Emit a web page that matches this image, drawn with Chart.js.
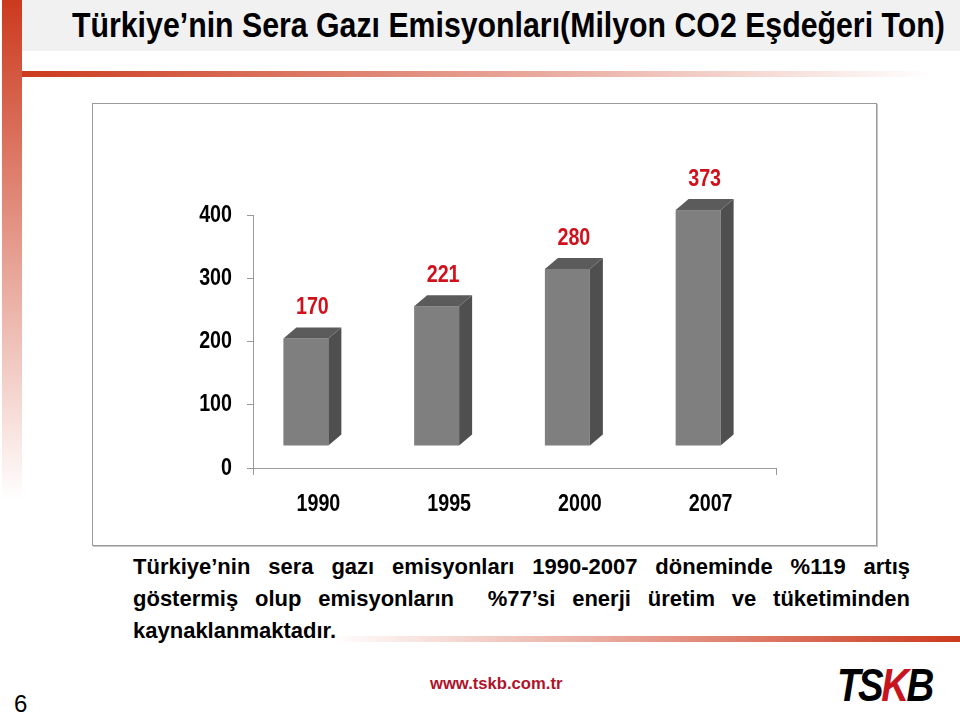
<!DOCTYPE html>
<html lang="tr">
<head>
<meta charset="utf-8">
<script src="https://cdn.jsdelivr.net/npm/chart.js@4.4.1/dist/chart.umd.min.js"></script>
<style>
  body { margin: 0; width: 960px; height: 716px; position: relative; overflow: hidden; background: #fff;
         font-family: "Liberation Sans", Arial, sans-serif; }
  .leftbar { position: absolute; left: 2px; top: 0; width: 20px; height: 500px;
             background: linear-gradient(#cc3a1e, rgba(255,255,255,0)); }
  .titleband { position: absolute; left: 22px; top: 0; width: 938px; height: 51px; background: #f1f1f1; }
  h1 { position: absolute; left: 72px; top: 5px; margin: 0; white-space: nowrap; transform-origin: 0 0;
       font: bold 35px "Liberation Sans", Arial, sans-serif; color: #000; }
  .redline { position: absolute; left: 22px; top: 71px; width: 910px; height: 6px;
             background: linear-gradient(to right, #cc3a1e, rgba(255,255,255,0)); }
  .box { position: absolute; left: 92px; top: 103px; width: 785px; height: 443px; box-sizing: border-box;
         border: 1px solid #9a9a9a; box-shadow: 1px 1px 0 #c8c8c8; }
  .box canvas { position: absolute; left: 0; top: 0; }
  .para { position: absolute; left: 133px; top: 551px; width: 777px; font: bold 22px "Liberation Sans", Arial, sans-serif;
          line-height: 32px; color: #000; }
  .para div { text-align: justify; text-align-last: justify; white-space: nowrap; }
  .para div.last { text-align: left; text-align-last: left; }
  .bottomline { position: absolute; left: 330px; top: 636px; width: 630px; height: 6px;
                background: linear-gradient(to right, rgba(255,255,255,0), #cc3a1e); }
  .pagenum { position: absolute; left: 14px; top: 690px; font: 24px "Liberation Sans", Arial, sans-serif; }
  .url { position: absolute; left: 430px; top: 675px; font: bold 16px "Liberation Sans", sans-serif; color: #b0122a;
         transform-origin: 0 0; }
  .logo { position: absolute; left: 837px; top: 657px; font: italic 900 47px "Liberation Sans", sans-serif;
          letter-spacing: -3px; color: #000; white-space: nowrap; transform-origin: 0 0; }
  .logo span { color: #c8141e; }
</style>
</head>
<body>
<div class="leftbar"></div>
<div class="titleband"></div>
<h1 id="title">Türkiye’nin Sera Gazı Emisyonları(Milyon CO2 Eşdeğeri Ton)</h1>
<div class="redline"></div>

<div class="box"><canvas id="chart" width="783" height="441"></canvas></div>

<div class="para">
  <div>Türkiye’nin sera gazı emisyonları 1990-2007 döneminde %119 artış</div>
  <div>göstermiş olup emisyonların &nbsp;%77’si enerji üretim ve tüketiminden</div>
  <div class="last">kaynaklanmaktadır.</div>
</div>
<div class="bottomline"></div>
<div class="pagenum">6</div>
<div class="url" id="url">www.tskb.com.tr</div>
<div class="logo" id="logo">TS<span>K</span>B</div>

<script>
const YEARS = ["1990", "1995", "2000", "2007"];
const EMISSIONS = [170, 221, 280, 373];
const Y_MIN = 0;
const Y_MAX = 400;
const Y_STEP = 100;

// squeeze html text to the width it has on the slide (no Arial Narrow here)
function fitWidth(id, w) {
  const el = document.getElementById(id);
  el.style.transform = "scaleX(" + (w / el.offsetWidth) + ")";
}
fitWidth("title", 873);
fitWidth("url", 132);
fitWidth("logo", 95);

const BOLD = 'bold 24px "Liberation Sans", Arial, sans-serif';
const SQUEEZE = 0.82;

function narrowText(ctx, text, x, y, align) {
  ctx.save();
  ctx.translate(x, y);
  ctx.scale(SQUEEZE, 1);
  ctx.textAlign = align;
  ctx.textBaseline = "middle";
  ctx.fillText(text, 0, 0);
  ctx.restore();
}

// fake 3d columns, drawn on top of the (invisible) chart.js bars
const DX = 13, DY = 11, LIFT = 22, SHIFT = -12.5;
const bars3d = {
  id: "bars3d",
  afterDatasetsDraw(chart) {
    const ctx = chart.ctx;
    const meta = chart.getDatasetMeta(0);
    ctx.save();
    meta.data.forEach((bar, i) => {
      const w = bar.width;
      const x0 = bar.x + SHIFT - w / 2;
      const x1 = x0 + w;
      const top = bar.y - LIFT;
      const bottom = bar.base - LIFT;

      ctx.fillStyle = "#7f7f7f";
      ctx.fillRect(x0, top, w, bottom - top);

      ctx.fillStyle = "#4f4f4f";
      ctx.beginPath();
      ctx.moveTo(x1, top);
      ctx.lineTo(x1 + DX, top - DY);
      ctx.lineTo(x1 + DX, bottom - DY);
      ctx.lineTo(x1, bottom);
      ctx.closePath();
      ctx.fill();

      ctx.fillStyle = "#5b5b5b";
      ctx.beginPath();
      ctx.moveTo(x0, top);
      ctx.lineTo(x0 + DX, top - DY);
      ctx.lineTo(x1 + DX, top - DY);
      ctx.lineTo(x1, top);
      ctx.closePath();
      ctx.fill();

      ctx.fillStyle = "#d0101a";
      ctx.font = BOLD;
      narrowText(ctx, String(EMISSIONS[i]), x0 + (w + DX) / 2, top - DY - 20, "center");
    });
    ctx.restore();
  },
};

// tick labels in a narrow face, placed from the axes' own ticks
const narrowTicks = {
  id: "narrowTicks",
  afterDraw(chart) {
    const ctx = chart.ctx;
    const xs = chart.scales.x;
    const ys = chart.scales.y;
    ctx.save();
    ctx.fillStyle = "#000";
    ctx.font = BOLD;
    ys.ticks.forEach((t, i) => narrowText(ctx, String(t.label), ys.right - 21, ys.getPixelForTick(i), "right"));
    xs.ticks.forEach((t, i) => narrowText(ctx, String(xs.getLabelForValue(t.value)), xs.getPixelForTick(i), xs.top + 36, "center"));
    ctx.restore();
  },
};

new Chart(document.getElementById("chart"), {
  type: "bar",
  data: {
    labels: YEARS,
    datasets: [{
      data: EMISSIONS,
      backgroundColor: "rgba(0,0,0,0)",
      barPercentage: 0.344,
      categoryPercentage: 1,
    }],
  },
  options: {
    responsive: false,
    animation: false,
    layout: { padding: { top: 111, right: 100, bottom: 27, left: 0 } },
    plugins: { legend: { display: false }, tooltip: { enabled: false } },
    scales: {
      x: {
        afterFit(scale) { scale.height = 50; },
        border: { color: "#9a9a9a" },
        grid: {
          drawOnChartArea: false,
          tickLength: 7,
          color: (c) => (c.type === "scale" || c.index === 0 ? "#9a9a9a" : "rgba(0,0,0,0)"),
        },
        ticks: { color: "rgba(0,0,0,0)", padding: 14, font: { size: 24, weight: "bold" } },
      },
      y: {
        min: Y_MIN,
        max: Y_MAX,
        afterFit(scale) { scale.width = 160; },
        border: { color: "#9a9a9a" },
        grid: { drawOnChartArea: false, tickLength: 6, color: "#9a9a9a" },
        ticks: { stepSize: Y_STEP, color: "rgba(0,0,0,0)", padding: 15, font: { size: 24, weight: "bold" } },
      },
    },
  },
  plugins: [bars3d, narrowTicks],
});
</script>
</body>
</html>
